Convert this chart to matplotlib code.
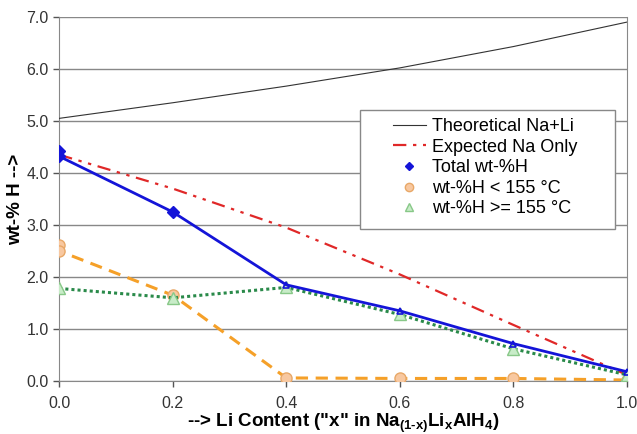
import matplotlib.pyplot as plt
from matplotlib.patches import Rectangle

plt.rcParams['font.family'] = ['Liberation Sans', 'DejaVu Sans']
plt.rcParams['mathtext.fontset'] = 'custom'
plt.rcParams['mathtext.rm'] = 'Liberation Sans'
plt.rcParams['mathtext.bf'] = 'Liberation Sans:bold'

# theoretical and expected curves
x_line = [0.0, 0.2, 0.4, 0.6, 0.8, 1.0]
theoretical = [5.05, 5.35, 5.67, 6.02, 6.43, 6.90]
expected_na = [4.35, 3.70, 2.95, 2.05, 1.08, 0.12]

# measured data
x_total = [0.0, 0.0, 0.2, 0.4, 0.6, 0.8, 1.0]
total = [4.42, 4.32, 3.25, 1.85, 1.35, 0.72, 0.18]

x_low = [0.0, 0.0, 0.2, 0.4, 0.6, 0.8, 1.0]
low_t = [2.62, 2.50, 1.65, 0.06, 0.05, 0.05, 0.02]

x_high = [0.0, 0.2, 0.4, 0.6, 0.8, 1.0]
high_t = [1.78, 1.60, 1.80, 1.28, 0.62, 0.12]

fig = plt.figure(figsize=(6.37, 4.34), dpi=100)
ax = fig.add_axes([0.093, 0.122, 0.891, 0.839])

ax.plot(x_line, theoretical, color='#333333', lw=0.8, label='Theoretical Na+Li', zorder=3)
ax.plot(x_line, expected_na, color='#e02828', lw=1.6, ls=(0, (6, 3, 1.5, 3, 1.5, 3)),
        label='Expected Na Only', zorder=3)
ax.plot(x_total, total, color='#1414d8', lw=2.0, zorder=5)
ax.plot(x_total[:3], total[:3], ls='none', marker='D', ms=6, color='#1414d8',
        label='Total wt-%H', zorder=6)
ax.plot(x_total[3:], total[3:], ls='none', marker='^', ms=5, mfc='none',
        mec='#1414d8', mew=1.2, zorder=6)
ax.plot(x_low, low_t, color='#f5a028', lw=2.2, ls=(0, (4, 2.5)), zorder=4)
ax.plot(x_low, low_t, ls='none', marker='o', ms=8, mfc='#f8c8a0', mec='#e8a868',
        label='wt-%H < 155 °C', zorder=4)
ax.plot(x_high, high_t, color='#2a8a4a', lw=2.2, ls=(0, (1, 1)), zorder=4)
ax.plot(x_high, high_t, ls='none', marker='^', ms=8, mfc='#c8ecc8', mec='#88c888',
        label='wt-%H >= 155 °C', zorder=4)

ax.set_xlim(0, 1.0)
ax.set_ylim(0, 7.0)
ax.set_xticks([0.0, 0.2, 0.4, 0.6, 0.8, 1.0])
ax.set_xticklabels(['0.0', '0.2', '0.4', '0.6', '0.8', '1.0'])
ax.set_yticks([0, 1, 2, 3, 4, 5, 6, 7])
ax.set_yticklabels(['%.1f' % v for v in range(8)])
ax.tick_params(labelsize=11.5, colors='#555555', labelcolor='#333333', length=4, width=1)
ax.tick_params(axis='x', pad=7)
ax.grid(axis='y', color='#888888', lw=1)
ax.set_axisbelow(True)
for side in ['left', 'right', 'bottom']:
    ax.spines[side].set_color('#888888')
ax.spines['top'].set_visible(False)

ax.set_xlabel('--> Li Content ("x" in Na$_{\\mathbf{(1\u2010x)}}$Li$_{\\mathbf{x}}$AlH$_{\\mathbf{4}}$)',
              fontsize=13.5, fontweight='bold', labelpad=0)
ax.set_ylabel('wt-% H -->', fontsize=13.5, fontweight='bold', labelpad=2)

# legend without its own frame; a wider box is drawn behind it like the original
leg = ax.legend(loc='upper left', bbox_to_anchor=(0.566, 0.757), fontsize=13,
                frameon=False, handlelength=1.8, labelspacing=0.2, borderpad=0.2,
                handletextpad=0.35, markerscale=0.75)
fig.canvas.draw()
bb = leg.get_window_extent().transformed(fig.transFigure.inverted())
pad_l, pad_r = 30 / 637, 34 / 637
pad_t, pad_b = 4 / 434, 8 / 434
box = Rectangle((bb.x0 - pad_l, bb.y0 - pad_b), bb.width + pad_l + pad_r,
                bb.height + pad_t + pad_b, transform=fig.transFigure,
                facecolor='white', edgecolor='#888888', lw=1, zorder=10)
fig.patches.append(box)
# move the legend to the figure level so it sits above the box
ax.legend_ = None
leg.set_zorder(11)
fig.legends.append(leg)

fig.savefig('out.png', dpi=100)
